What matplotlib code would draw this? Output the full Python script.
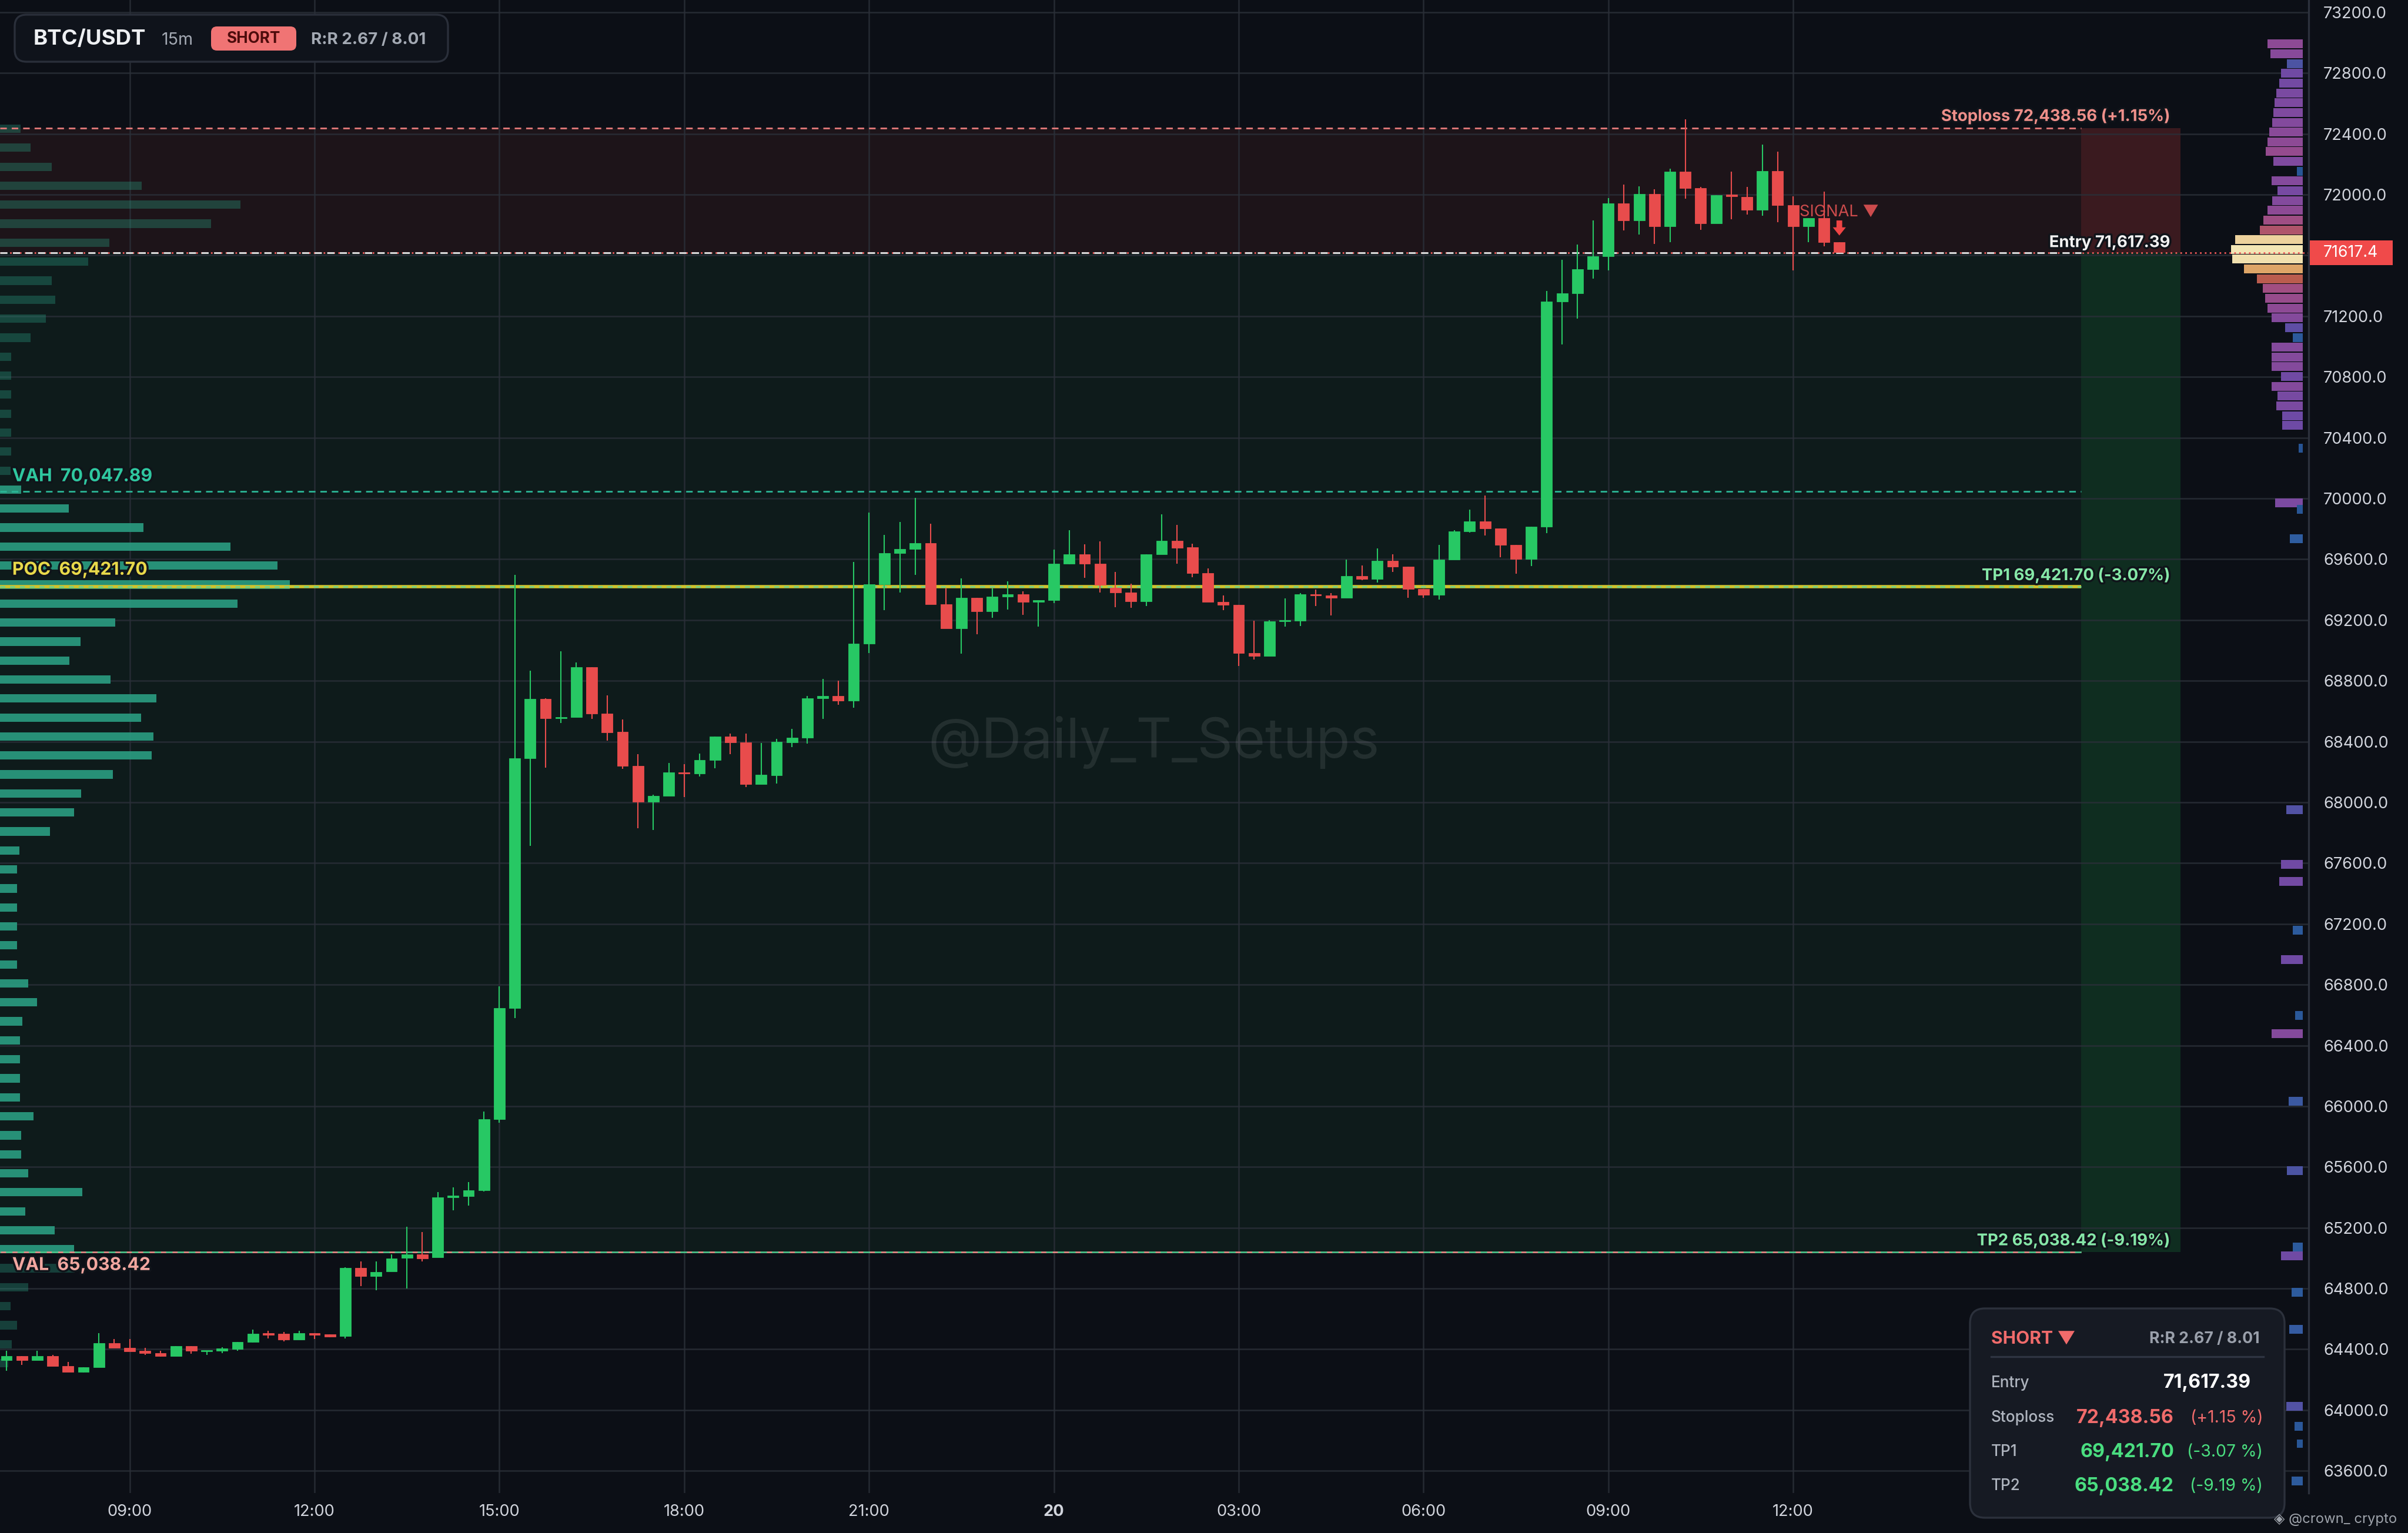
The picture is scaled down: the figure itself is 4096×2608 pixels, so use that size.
import numpy as np
import pandas as pd
import matplotlib
matplotlib.use("Agg")
import matplotlib.pyplot as plt
from matplotlib.patches import Rectangle, FancyBboxPatch
from matplotlib.colors import LinearSegmentedColormap
import matplotlib.patheffects as pe
import matplotlib.transforms as mtransforms

plt.rcParams["font.family"] = ["Inter", "DejaVu Sans"]

# ---------------- data ----------------
symbol = "BTC/USDT"
timeframe = "15m"
side = "SHORT"
start_time = "2024-03-19 07:00"
watermark = "@Daily_T_Setups"
credit = "@crown_ crypto"

entry = 71617.39
stoploss = 72438.56
tp1 = 69421.70
tp2 = 65038.42
vah = 70047.89
poc = 69421.70
val = 65038.42
last_price = 71617.4

opens = [64330, 64356, 64330, 64356, 64289, 64250, 64281, 64440, 64408, 64389,
         64376, 64356, 64423, 64385, 64389, 64401, 64449, 64507, 64502, 64462,
         64505, 64498, 64488, 64936, 64880, 64913, 65000, 65023, 65007, 65400,
         65406, 65446, 65916, 66646, 68289, 68679, 68552, 68561, 68890, 68586,
         68464, 68238, 68003, 68042, 68197, 68190, 68277, 68432, 68393, 68120,
         68176, 68396, 68425, 68686, 68699, 68670, 69044, 69435, 69640, 69667,
         69706, 69302, 69144, 69345, 69257, 69354, 69369, 69318, 69331, 69569,
         69631, 69569, 69412, 69382, 69325, 69631, 69721, 69679, 69509, 69318,
         69298, 68984, 68964, 69190, 69195, 69369, 69360, 69345, 69489, 69470,
         69590, 69551, 69405, 69367, 69596, 69782, 69850, 69803, 69693, 69602,
         69814, 71297, 71351, 71509, 71593, 71943, 71830, 72006, 71791, 72150,
         72042, 71811, 71999, 71986, 71899, 72154, 71929, 71791, 71844, 71686]
highs = [64389, 64356, 64389, 64363, 64318, 64281, 64505, 64466, 64466, 64410,
         64389, 64423, 64423, 64391, 64414, 64449, 64530, 64520, 64515, 64520,
         64505, 64498, 64939, 64978, 64980, 65023, 65206, 65173, 65433, 65466,
         65500, 65963, 66789, 69499, 68866, 68686, 68995, 68919, 68890, 68705,
         68545, 68316, 68051, 68258, 68251, 68320, 68432, 68451, 68451, 68390,
         68419, 68483, 68702, 68812, 68799, 69582, 69909, 69760, 69844, 70003,
         69835, 69408, 69473, 69345, 69408, 69453, 69389, 69331, 69663, 69792,
         69698, 69717, 69515, 69440, 69631, 69896, 69825, 69702, 69541, 69363,
         69298, 69196, 69199, 69341, 69379, 69402, 69379, 69599, 69558, 69670,
         69631, 69551, 69405, 69693, 69792, 69928, 70021, 69803, 69693, 69814,
         71364, 71572, 71670, 71830, 71978, 72067, 72055, 72036, 72170, 72496,
         72051, 71998, 72150, 72051, 72328, 72284, 71988, 71844, 72018, 71686]
lows = [64260, 64298, 64330, 64289, 64250, 64246, 64281, 64408, 64385, 64363,
        64350, 64356, 64369, 64363, 64373, 64389, 64446, 64473, 64453, 64462,
        64466, 64481, 64472, 64817, 64790, 64913, 64800, 64980, 65007, 65316,
        65347, 65440, 65890, 66580, 67712, 68230, 68522, 68561, 68548, 68408,
        68219, 67828, 67819, 68042, 68035, 68171, 68223, 68316, 68099, 68120,
        68122, 68365, 68386, 68550, 68644, 68621, 68984, 69264, 69382, 69498,
        69302, 69144, 68980, 69105, 69215, 69270, 69235, 69156, 69311, 69566,
        69479, 69382, 69285, 69279, 69292, 69631, 69569, 69483, 69318, 69264,
        68899, 68941, 68964, 69156, 69160, 69292, 69231, 69345, 69463, 69448,
        69515, 69347, 69347, 69335, 69596, 69776, 69758, 69614, 69505, 69554,
        69771, 71015, 71183, 71449, 71503, 71765, 71736, 71676, 71686, 71972,
        71769, 71811, 71838, 71870, 71860, 71818, 71503, 71686, 71661, 71621]
closes = [64356, 64330, 64356, 64289, 64250, 64281, 64440, 64408, 64385, 64376,
          64356, 64423, 64389, 64391, 64404, 64449, 64502, 64496, 64462, 64507,
          64496, 64485, 64936, 64880, 64907, 64997, 65023, 64997, 65400, 65406,
          65446, 65916, 66646, 68289, 68679, 68554, 68561, 68890, 68584, 68461,
          68238, 68003, 68042, 68197, 68189, 68277, 68432, 68393, 68120, 68180,
          68399, 68425, 68686, 68699, 68670, 69044, 69435, 69640, 69667, 69706,
          69302, 69144, 69345, 69257, 69354, 69369, 69318, 69331, 69569, 69631,
          69569, 69431, 69382, 69325, 69631, 69721, 69676, 69509, 69318, 69298,
          68984, 68964, 69190, 69195, 69369, 69360, 69345, 69489, 69470, 69590,
          69551, 69405, 69367, 69596, 69782, 69850, 69803, 69693, 69602, 69814,
          71297, 71351, 71509, 71593, 71943, 71830, 72006, 71791, 72150, 72042,
          71811, 71998, 71988, 71899, 72154, 71929, 71791, 71844, 71686, 71621]

# left session volume profile (rows from high to low)
vp_volume = [35, 52, 88, 241, 409, 359, 186, 150, 88, 94,
             78, 52, 19, 19, 19, 19, 19, 19, 18, 36,
             117, 244, 392, 471, 492, 404, 196, 137, 118, 188,
             266, 240, 261, 258, 192, 138, 126, 85, 33, 29,
             29, 29, 29, 29, 29, 48, 63, 38, 34, 34,
             34, 34, 57, 36, 36, 48, 140, 43, 93, 126,
             127, 48, 18, 29, 20, 14]

# right (visible range) volume profile
rp_price = [72991, 72927, 72862, 72798, 72734, 72669, 72605, 72541, 72476, 72412,
            72347, 72283, 72219, 72154, 72090, 72026, 71961, 71897, 71833, 71768,
            71704, 71640, 71575, 71511, 71446, 71382, 71318, 71253, 71189, 71124,
            71060, 70996, 70931, 70867, 70802, 70738, 70674, 70609, 70545, 70480,
            70332, 69972, 69927, 69734, 67951, 67590, 67481, 67159, 66966, 66599,
            66477, 66032, 65575, 65073, 65015, 64777, 64532, 64024, 63895, 63779, 63534]
rp_volume = [60, 55, 27, 37, 40, 45, 48, 50, 52, 57,
             60, 63, 50, 10, 53, 43, 52, 60, 67, 73,
             115, 122, 120, 100, 78, 68, 64, 60, 53, 30,
             17, 53, 53, 53, 37, 53, 43, 45, 35, 35,
             7, 47, 10, 22, 28, 37, 40, 17, 37, 13,
             53, 24, 27, 17, 37, 19, 23, 28, 14, 10, 19]

price_ticks = np.arange(63600, 73201, 400)

# ---------------- derived ----------------
o = np.array(opens, float)
h = np.array(highs, float)
l = np.array(lows, float)
c = np.array(closes, float)
n = len(o)
x = np.arange(n)
times = pd.date_range(start_time, periods=n, freq="15min")
tick_idx = [i for i, t in enumerate(times) if t.minute == 0 and t.hour % 3 == 0]
tick_lbl = [(str(times[i].day) if times[i].hour == 0 else times[i].strftime("%H:%M")) for i in tick_idx]

sl_pct = (stoploss / entry - 1) * 100
tp1_pct = (tp1 / entry - 1) * 100
tp2_pct = (tp2 / entry - 1) * 100
rr1 = (entry - tp1) / (stoploss - entry)
rr2 = (entry - tp2) / (stoploss - entry)
rr_text = f"R:R {rr1:.2f} / {rr2:.2f}"

# ---------------- style ----------------
W, H, DPI = 4096, 2608, 200
BG = "#0c0f16"
GREEN = "#27c864"
RED = "#e84c4c"
TXT = "#d1d4dc"

fig = plt.figure(figsize=(W / DPI, H / DPI), dpi=DPI, facecolor=BG)
ax = fig.add_axes([0, 68 / H, 3927 / W, 2540 / H], facecolor=BG)
xmin, xmax = -0.42, 149.47
ymin, ymax = 63454, 73281
ax.set_xlim(xmin, xmax)
ax.set_ylim(ymin, ymax)

box_left = n - 1 + 15.7
box_right = n - 1 + 22.15

# zones
ax.add_patch(Rectangle((xmin, entry), box_left - xmin, stoploss - entry, fc="#1d1419", ec="none", zorder=0.1))
ax.add_patch(Rectangle((box_left, entry), box_right - box_left, stoploss - entry, fc="#3a1a1f", ec="none", zorder=0.1))
ax.add_patch(Rectangle((xmin, tp2), box_left - xmin, entry - tp2, fc="#0e1b1b", ec="none", zorder=0.1))
ax.add_patch(Rectangle((box_left, tp2), box_right - box_left, entry - tp2, fc="#0f2d20", ec="none", zorder=0.1))

# grid / ticks
ax.set_yticks(price_ticks)
ax.set_yticklabels(["" if abs(v - last_price) < 150 else f"{v:.1f}" for v in price_ticks])
ax.set_xticks(tick_idx)
ax.set_xticklabels(tick_lbl)
for lbl, t in zip(ax.get_xticklabels(), tick_idx):
    if times[t].hour == 0:
        lbl.set_fontweight("bold")
ax.grid(True, color="#2a2f38", lw=0.9, alpha=0.85)
ax.set_axisbelow(True)
ax.yaxis.tick_right()
ax.tick_params(axis="y", length=0, pad=9, labelsize=9.8, labelcolor=TXT, labelright=True, labelleft=False)
ax.tick_params(axis="x", length=0, pad=7, labelsize=9.8, labelcolor=TXT)
for s in ["left", "top", "bottom"]:
    ax.spines[s].set_visible(False)
ax.spines["right"].set_color("#2c313c")
ax.spines["right"].set_linewidth(1.2)

# left volume profile
vp = np.array(vp_volume, float)
lo, hi = l.min(), h.max()
step = (hi - lo) / len(vp)
centers = hi - step * (np.arange(len(vp)) + 0.5)
widths = vp / vp.max() * 18.8
in_va = (centers >= val - step / 2) & (centers <= vah + step / 2)
ax.barh(centers[in_va], widths[in_va], height=step * 0.44, left=xmin, color="#2a9b80", alpha=0.92, zorder=1)
ax.barh(centers[~in_va], widths[~in_va], height=step * 0.44, left=xmin, color="#2a9b80", alpha=0.35, zorder=1)

# right volume profile
rpv = np.array(rp_volume, float)
cmap = LinearSegmentedColormap.from_list(
    "vp", [(0, "#23508f"), (0.18, "#2f5da0"), (0.26, "#6a4aa6"), (0.4, "#7e4aa0"),
           (0.5, "#8f4a94"), (0.58, "#a9507a"), (0.66, "#c0603f"), (0.8, "#dc9e5e"),
           (1.0, "#f3e6b5")])
rw = rpv / rpv.max() * 4.66
rp_right = xmax - 0.39
ax.barh(rp_price, rw, height=58, left=rp_right - rw, color=cmap(rpv / rpv.max()), zorder=1.2)

# level lines
ax.hlines(stoploss, xmin, box_left, colors="#e57a7a", linestyles=(0, (4, 3)), lw=1.0, zorder=2)
ax.hlines(entry, xmin, xmax, colors="#f05a5a", linestyles=(0, (1, 2)), lw=1.0, zorder=2)
ax.hlines(entry, xmin, box_left, colors="#d9d9d9", linestyles=(0, (4, 3)), lw=1.1, zorder=2.1)
ax.hlines(vah, xmin, box_left, colors="#2bb595", linestyles=(0, (4, 3)), lw=1.0, zorder=2)
ax.hlines(poc, xmin, box_left, colors="#cfc22c", lw=2.0, zorder=2)
ax.hlines(tp1, xmin, box_left, colors="#6fd38a", linestyles=(0, (3, 3)), lw=1.0, zorder=2.1)
ax.hlines(val, xmin, box_left, colors="#e58a86", linestyles=(0, (4, 3)), lw=1.0, zorder=2)
ax.hlines(tp2, xmin, box_left, colors="#4cc38a", linestyles=(3.5, (4, 3)), lw=1.0, zorder=2.1)

# watermark
ax.text(74.5, 68396, watermark, ha="center", va="center", fontsize=34, color="#ffffff", alpha=0.09, zorder=3)

# candles
up = c >= o
cols = np.where(up, GREEN, RED)
ax.vlines(x, l, h, colors=cols, lw=0.75, zorder=4)
body_lo = np.minimum(o, c)
body_h = np.maximum(np.abs(c - o), 10)
ax.bar(x, body_h, bottom=body_lo, width=0.72, color=cols, edgecolor=cols, linewidth=0.3, zorder=5)

# signal
ax.text(x[-1] - 2.6, 71886, "SIGNAL \u25BC", ha="left", va="center", fontsize=9.8, color="#e05252", alpha=0.9, zorder=6)
ax.annotate("", xy=(x[-1], 71731), xytext=(x[-1], 71830),
            arrowprops=dict(arrowstyle="simple,head_length=0.5,head_width=0.8,tail_width=0.35",
                            fc="#ef4444", ec="none", shrinkA=0, shrinkB=0, mutation_scale=10), zorder=6)

# right labels on levels
shadow = [pe.withStroke(linewidth=2.5, foreground="#10141a")]
def line_label(price, text, color, dy):
    ax.annotate(text, xy=(box_right, price), xytext=(-6.5, dy), textcoords="offset points",
                ha="right", va="center", fontsize=9.9, fontweight="bold", color=color, zorder=7,
                path_effects=shadow)

line_label(stoploss, f"Stoploss {stoploss:,.2f} ({sl_pct:+.2f}%)", "#ee8f8a", 7)
line_label(entry, f"Entry {entry:,.2f}", "#f2f2f2", 6)
line_label(tp1, f"TP1 {tp1:,.2f} ({tp1_pct:+.2f}%)", "#86e8a8", 6.5)
line_label(tp2, f"TP2 {tp2:,.2f} ({tp2_pct:+.2f}%)", "#86e8a8", 7)

def left_label(price, text, color, dy):
    ax.annotate(text, xy=(xmin, price), xytext=(7.5, dy), textcoords="offset points",
                ha="left", va="center", fontsize=10.9, fontweight="bold", color=color, zorder=7,
                path_effects=shadow)

left_label(vah, f"VAH  {vah:,.2f}", "#2fc79f", 9)
left_label(poc, f"POC  {poc:,.2f}", "#e8d94a", 10)
left_label(val, f"VAL  {val:,.2f}", "#f2a7a0", -8)

# last price tag on axis
blend = mtransforms.blended_transform_factory(ax.transAxes, ax.transData)
ax.add_patch(Rectangle((1.0005, last_price - 81), 0.0359, 162, transform=blend, fc="#f04a4a",
                       ec="none", clip_on=False, zorder=8))
ax.text(1 + 25 / 3927, last_price, f"{last_price:.1f}", transform=blend, ha="left", va="center",
        fontsize=9.6, color="white", clip_on=False, zorder=9)

# ---------------- overlays (pixel placed) ----------------
def ftext(xp, yp, s, **kw):
    fig.text(xp / DPI, (H - yp) / DPI, s, transform=fig.dpi_scale_trans, **kw)

def fbox(x0, y0, x1, y1, r, **kw):
    p = FancyBboxPatch((x0 / DPI, (H - y1) / DPI), (x1 - x0) / DPI, (y1 - y0) / DPI,
                       boxstyle=f"round,pad=0,rounding_size={r / DPI}",
                       transform=fig.dpi_scale_trans, **kw)
    fig.add_artist(p)

# header
fbox(25, 25, 762, 105, 20, fc="#0f131b", ec="#2a2f3a", lw=1.2)
ftext(57, 67, symbol, fontsize=13.2, fontweight="bold", color="#eef0f3", va="center", ha="left")
ftext(275, 68, timeframe, fontsize=10.3, color="#a3a9b3", va="center", ha="left")
fbox(359, 45, 504, 86, 10, fc="#f07474", ec="none")
ftext(431.5, 66, side, fontsize=9.4, fontweight="bold", color="#4d0c0c", va="center", ha="center")
ftext(529, 68, rr_text, fontsize=10, fontweight="bold", color="#a3a9b3", va="center", ha="left")

# info box
fbox(3351, 2226, 3886, 2582, 25, fc="#161a23", ec="#2c313c", lw=1.2)
ftext(3387, 2278, side + " \u25BC", fontsize=10.8, fontweight="bold", color="#f06b6b", va="center", ha="left")
ftext(3844, 2278, rr_text, fontsize=9.6, fontweight="bold", color="#9aa0ab", va="center", ha="right")
fig.add_artist(plt.Line2D([3387 / DPI, 3850 / DPI], [(H - 2308) / DPI] * 2, transform=fig.dpi_scale_trans,
                          color="#2f3542", lw=1.2))
rows = [("Entry", entry, None, "#ffffff", 2353),
        ("Stoploss", stoploss, sl_pct, "#f06b6b", 2412),
        ("TP1", tp1, tp1_pct, "#4ade80", 2470),
        ("TP2", tp2, tp2_pct, "#4ade80", 2528)]
for name, v, pct, col, yp in rows:
    ftext(3387, yp, name, fontsize=9.4, fontweight="medium", color="#aeb4be", va="center", ha="left")
    if pct is None:
        ftext(3829, yp, f"{v:,.2f}", fontsize=11.6, fontweight="bold", color=col, va="center", ha="right")
    else:
        ftext(3698, yp, f"{v:,.2f}", fontsize=11.6, fontweight="bold", color=col, va="center", ha="right")
        ftext(3849, yp, f"({pct:+.2f} %)", fontsize=10.2, color=col, va="center", ha="right")

ftext(3868, 2585, "\u25C8 " + credit, fontsize=8.6, color="#9ea3ab", va="center", ha="left")

fig.savefig("out.png", dpi=DPI, facecolor=BG)
